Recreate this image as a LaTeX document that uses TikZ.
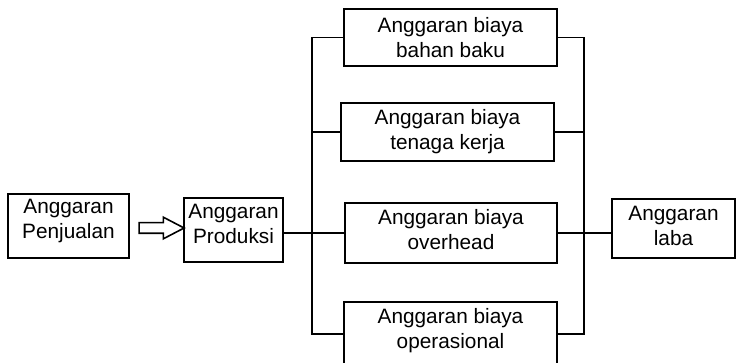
\documentclass[tikz,border=0pt]{standalone}
\usepackage{fontspec}
\setmainfont{Liberation Sans}
\usetikzlibrary{positioning,calc,shapes.arrows}

\begin{document}
\begin{tikzpicture}[x=1pt,y=-1pt,
  box/.style={draw,line width=1.9pt,align=center,inner sep=0pt,
    font=\fontsize{20.8}{25}\selectfont},
  link/.style={line width=1.9pt},
  blockarrow/.style={single arrow,draw,line width=1.6pt,inner xsep=0pt,
    inner ysep=4.5pt,single arrow head extend=5.5pt,
    single arrow tip angle=55,minimum height=45pt}
]
\useasboundingbox (0,0) rectangle (736,363);
\clip (0,0) rectangle (736,363);
\node[box,minimum width=121pt,minimum height=64pt,text depth=14pt] (penj) at (68.5,226) {Anggaran\\Penjualan};
\node[box,minimum width=99pt,minimum height=64pt,text depth=12pt] (prod) at (233.5,230) {Anggaran\\Produksi};
\node[box,minimum width=213pt,minimum height=57pt] (bahan) at (450.5,37.5) {Anggaran biaya\\bahan baku};
\node[box,minimum width=213pt,minimum height=58pt] (tenaga) at (447.5,132) {Anggaran biaya\\tenaga kerja};
\node[box,minimum width=212pt,minimum height=60pt,text depth=7pt] (overhead) at (451,233) {Anggaran biaya\\overhead};
\node[box,minimum width=213pt,minimum height=64pt,text depth=11pt] (operasional) at (450.5,334) {Anggaran biaya\\operasional};
\node[box,minimum width=123pt,minimum height=59pt,text depth=5pt] (laba) at (673.5,228.5) {Anggaran\\laba};
\node[blockarrow] (arr) at ($(penj.east)!0.5!(prod.west)$) {};
\coordinate (lbus) at (312,0);
\coordinate (rbus) at (584,0);
% left collector
\draw[link] (bahan.west) -| (lbus |- operasional.west) -- (operasional.west);
\draw[link] (tenaga.west) -- (tenaga.west -| lbus);
\draw[link] (prod.east |- overhead.west) -- (overhead.west);
% right collector
\draw[link] (bahan.east) -| (rbus |- operasional.east) -- (operasional.east);
\draw[link] (tenaga.east) -- (tenaga.east -| rbus);
\draw[link] (overhead.east) -- (laba.west |- overhead.east);
\end{tikzpicture}
\end{document}
